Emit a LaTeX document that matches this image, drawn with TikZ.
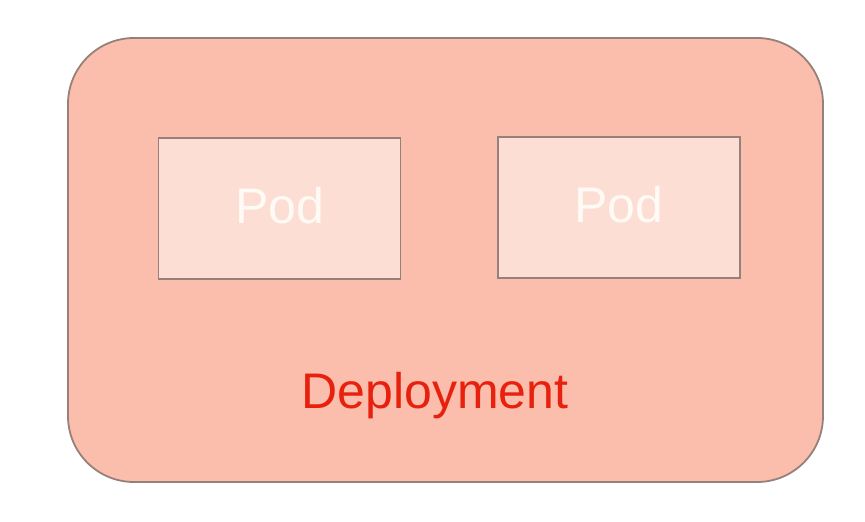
\documentclass[tikz,border=0pt]{standalone}
\usepackage{fontspec}
\setmainfont{Liberation Sans}
\definecolor{deplfill}{RGB}{251,189,172}
\definecolor{podfill}{RGB}{253,222,212}
\definecolor{edgegrey}{RGB}{150,128,122}
\definecolor{deplred}{RGB}{232,32,14}
\definecolor{podtext}{RGB}{255,250,244}
\begin{document}
\begin{tikzpicture}[x=1pt,y=-1pt,
  deplbox/.style={draw=edgegrey,line width=1.8pt,fill=deplfill,rounded corners=66pt},
  podbox/.style={draw=edgegrey,line width=1.5pt,fill=podfill,minimum width=242pt,minimum height=141pt,inner sep=0pt},
  podlbl/.style={font=\fontsize{50}{50}\selectfont,text=podtext,inner sep=0pt,anchor=base},
  lbl/.style={font=\fontsize{50}{50}\selectfont,text=deplred,inner sep=0pt,anchor=base}]
\useasboundingbox (0,0) rectangle (865,522);
\draw[deplbox] (68,38) rectangle (823,482);
\node[podbox] (pod1) at (279.5,208.5) {};
\node[podbox] (pod2) at (619,207.5) {};
\node[podlbl] at ([yshift=-15pt]pod1.center) {Pod};
\node[podlbl] at ([yshift=-15pt]pod2.center) {Pod};
\node[lbl] (depl) at (435,408) {Deployment};
\end{tikzpicture}
\end{document}
